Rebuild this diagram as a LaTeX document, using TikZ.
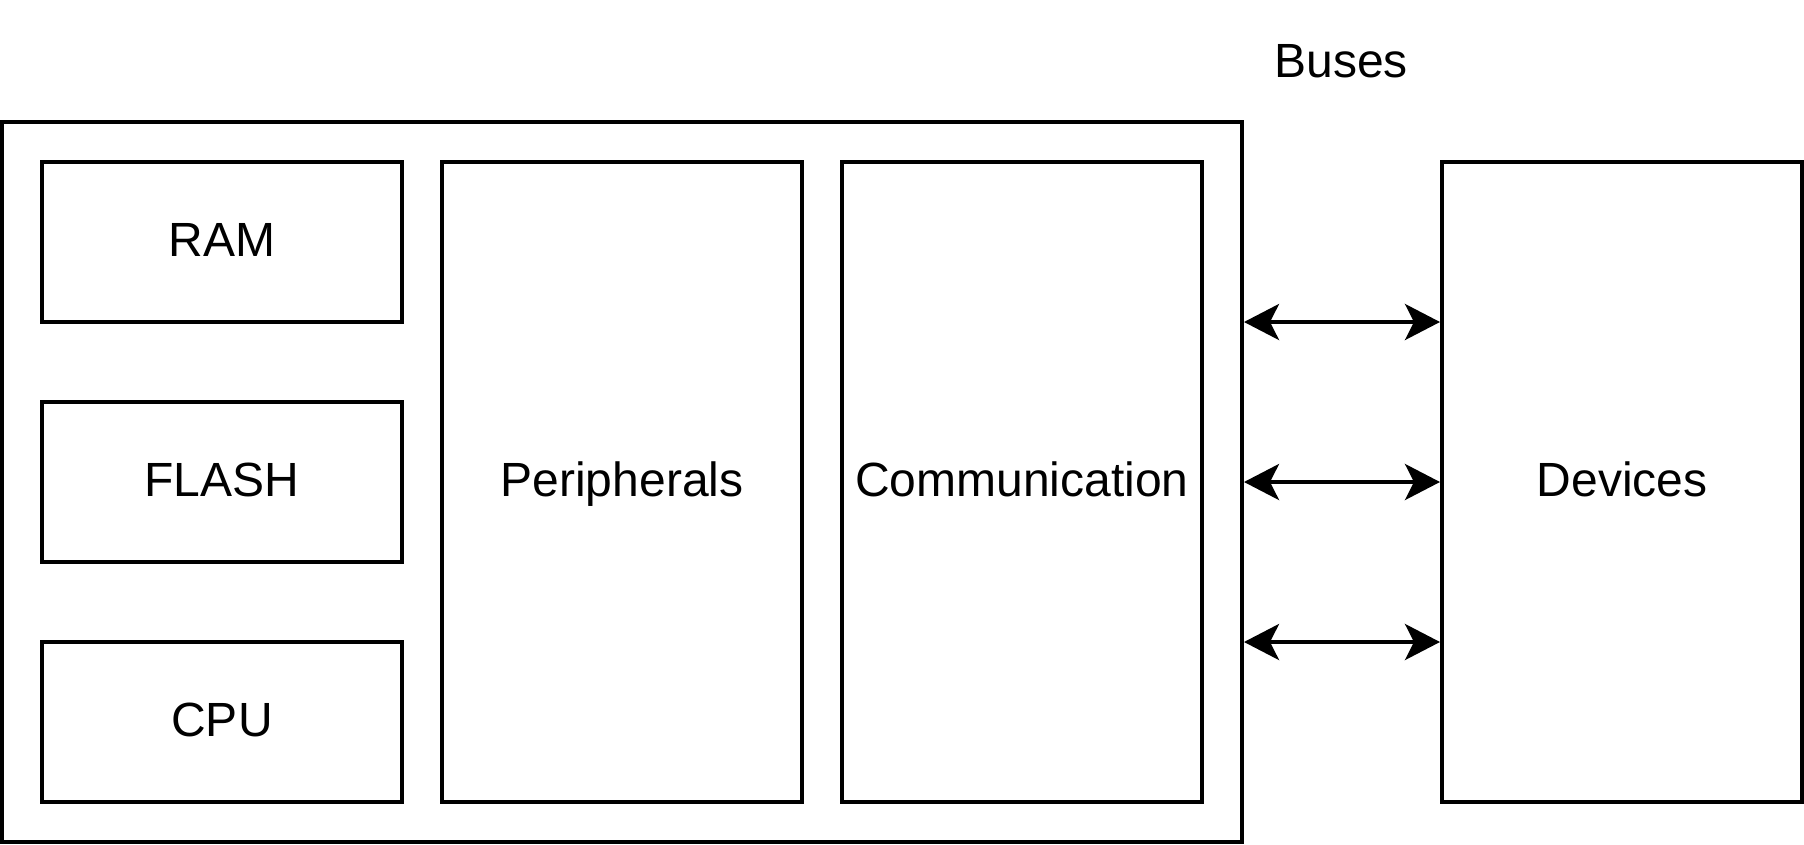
\documentclass[tikz,border=0pt]{standalone}
\usepackage{fontspec}
\setmainfont{Liberation Sans}
\usetikzlibrary{arrows.meta}
\begin{document}
\begin{tikzpicture}[x=1pt,y=-1pt,
  txt/.style={font=\fontsize{48}{58}\selectfont,text=black,inner sep=0pt,
    text height=34.4pt,text depth=0pt},
  box/.style={draw=black,line width=4pt,fill=white,rectangle,inner sep=0pt,
    label={[txt,yshift=3pt]center:#1}},
  box/.default={},
  bus/.style={line width=4pt,{Stealth[length=35pt,width=36pt,inset=9pt]}-{Stealth[length=35pt,width=36pt,inset=9pt]}}]
\useasboundingbox (0,0) rectangle (1804,844);
\node[box,minimum width=1240pt,minimum height=720pt] (mcu) at (622,482) {};
\node[box=RAM,minimum width=360pt,minimum height=160pt] (ram) at (222,242) {};
\node[box=FLASH,minimum width=360pt,minimum height=160pt] (flash) at (222,482) {};
\node[box=CPU,minimum width=360pt,minimum height=160pt] (cpu) at (222,722) {};
\node[box=Peripherals,minimum width=360pt,minimum height=640pt] (per) at (622,482) {};
\node[box=Communication,minimum width=360pt,minimum height=640pt] (com) at (1022,482) {};
\node[box=Devices,minimum width=360pt,minimum height=640pt] (dev) at (1622,482) {};
\node[txt] (buses) at (1341,60) {Buses};
\coordinate (a1) at (mcu.east |- 0,322);
\coordinate (b1) at (dev.west |- 0,322);
\coordinate (a2) at (mcu.east |- 0,482);
\coordinate (b2) at (dev.west |- 0,482);
\coordinate (a3) at (mcu.east |- 0,642);
\coordinate (b3) at (dev.west |- 0,642);
\draw[bus] (a1) -- (b1);
\draw[bus] (a2) -- (b2);
\draw[bus] (a3) -- (b3);
\end{tikzpicture}
\end{document}
